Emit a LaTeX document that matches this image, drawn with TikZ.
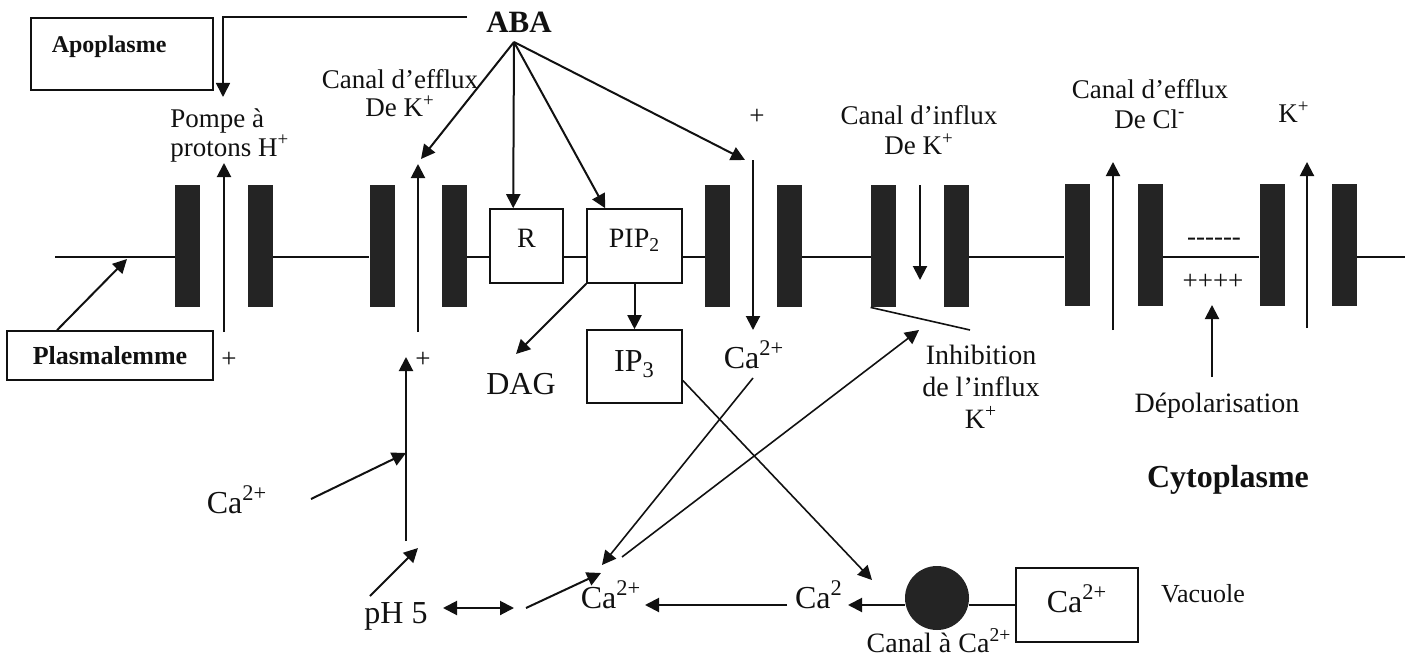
\documentclass[tikz,border=0pt]{standalone}
\usepackage{fontspec}
\setmainfont{Liberation Serif}
\usepackage{tikz}
\usetikzlibrary{arrows.meta,calc}
\definecolor{ChannelDark}{HTML}{242424}
\definecolor{TextDark}{HTML}{111111}

\begin{document}
\begin{tikzpicture}[x=0.5pt, y=-0.5pt,
    every node/.style={inner sep=0pt, text=TextDark},
    lbl/.style={font=\fontsize{13.5}{15}\selectfont, align=center, anchor=base},
    ion/.style={font=\fontsize{16}{18}\selectfont, anchor=base},
    boxed/.style={draw=TextDark, line width=0.8pt},
    chan/.style={fill=ChannelDark, minimum width=12.5pt, minimum height=61pt},
    mem/.style={draw=TextDark, line width=0.6pt},
    arr/.style={draw=TextDark, line width=1pt, -{Triangle[length=7pt,width=7pt]}},
    link/.style={draw=TextDark, line width=0.8pt}]
  \useasboundingbox (0,0) rectangle (1413,658);

  % membrane channels
  \node[chan] (b1)  at (187.5,246) {};
  \node[chan] (b2)  at (260.5,246) {};
  \node[chan] (b3)  at (382,246) {};
  \node[chan] (b4)  at (454.5,246) {};
  \node[chan] (b5)  at (717.5,246) {};
  \node[chan] (b6)  at (789.5,246) {};
  \node[chan] (b7)  at (883.5,246) {};
  \node[chan] (b8)  at (956.5,246) {};
  \node[chan] (b9)  at (1077,245) {};
  \node[chan] (b10) at (1150,245) {};
  \node[chan] (b11) at (1272,245) {};
  \node[chan] (b12) at (1344.5,245) {};

  % boxes
  \node[boxed, anchor=north west, font=\fontsize{12}{14}\selectfont\bfseries, align=left,
        text width=70pt, inner xsep=10.5pt, inner ysep=4pt, text height=13.5pt, text depth=14.5pt]
        (apo) at (30,17) {Apoplasme};
  \node[boxed, minimum width=103pt, minimum height=24.5pt, font=\fontsize{13}{15}\selectfont\bfseries]
        (plasma) at (110,355.5) {Plasmalemme};
  \node[boxed, minimum width=36.5pt, minimum height=37pt, font=\fontsize{14}{16}\selectfont, text depth=8pt]
        (R) at (526.5,246) {R};
  \node[boxed, minimum width=47.5pt, minimum height=37pt, font=\fontsize{14}{16}\selectfont, text depth=7.5pt]
        (PIP) at (634.5,246) {PIP\textsubscript{2}};
  \node[boxed, minimum width=47.5pt, minimum height=36.5pt, font=\fontsize{16}{18}\selectfont, text depth=5pt]
        (IP3) at (634.5,366.5) {IP\textsubscript{3}};
  \node[boxed, minimum width=61pt, minimum height=37pt, font=\fontsize{16}{18}\selectfont, text depth=6.5pt]
        (vac) at (1077,605) {Ca\textsuperscript{2+}};
  \node[circle, fill=ChannelDark, minimum size=32pt] (pore) at (937,598) {};

  % labels
  \node[anchor=base, font=\fontsize{15.5}{17}\selectfont\bfseries] (aba) at (519,33) {ABA};
  \node[lbl, align=left, anchor=base west, font=\fontsize{13.5}{12.5}\selectfont] (pompe) at (170,156) {Pompe à\\protons H\textsuperscript{+}};
  \node[lbl, font=\fontsize{13.5}{14}\selectfont] (effK) at (400,117) {Canal d’efflux\\De K\textsuperscript{+}};
  \node[lbl] (infK) at (919,155) {Canal d’influx\\De K\textsuperscript{+}};
  \node[lbl] (effCl) at (1150,128) {Canal d’efflux\\De Cl\textsuperscript{-}};
  \node[lbl] (kout) at (1294,123) {K\textsuperscript{+}};
  \node[lbl] (plusA) at (757,125) {+};
  \node[lbl] (plusP) at (229,367) {+};
  \node[lbl] (plusK) at (423,367) {+};
  \node[lbl, font=\fontsize{14}{16}\selectfont] (inhib) at (981,428) {Inhibition\\de l’influx\\K\textsuperscript{+}};
  \node[lbl, font=\fontsize{14}{16}\selectfont] (depol) at (1217,412) {Dépolarisation};
  \node[lbl] (neg) at (1214,245) {{-}{-}{-}{-}{-}{-}};
  \node[lbl] (pos) at (1213,289) {++++};
  \node[ion] (dag) at (521,394) {DAG};
  \node[ion] (caM) at (754,368) {Ca\textsuperscript{2+}};
  \node[ion] (caL) at (237,513) {Ca\textsuperscript{2+}};
  \node[ion] (ph) at (396,623) {pH 5};
  \node[ion] (caLow) at (611,608) {Ca\textsuperscript{2+}};
  \node[ion] (ca2) at (819,608) {Ca\textsuperscript{2}};
  \node[lbl, font=\fontsize{14}{16}\selectfont] (canalCa) at (939,652) {Canal à Ca\textsuperscript{2+}};
  \node[lbl, font=\fontsize{13}{15}\selectfont] (vacuole) at (1203,602) {Vacuole};
  \node[anchor=base, font=\fontsize{16}{18}\selectfont\bfseries] (cyto) at (1228,487) {Cytoplasme};

  % free ends
  \coordinate (memL) at (55,257);
  \coordinate (memR) at (1405,257);
  \coordinate (memPt) at (127,259);
  \coordinate (abaL) at (467,17);
  \coordinate (apoIn) at (223,97);
  \coordinate (abaS) at (514,42);
  \coordinate (effTip) at (421,159);
  \coordinate (caTip) at (745,160);
  \coordinate (pumpB) at (224,332);
  \coordinate (pumpT) at (224,163);
  \coordinate (effB) at (418,332);
  \coordinate (effT) at (418,164);
  \coordinate (caT) at (753,160);
  \coordinate (caB) at (753,330);
  \coordinate (infT) at (920,185);
  \coordinate (infB) at (920,280);
  \coordinate (clB) at (1113,330);
  \coordinate (clT) at (1113,162);
  \coordinate (kB) at (1307,328);
  \coordinate (kT) at (1307,162);
  \coordinate (depB) at (1212,377);
  \coordinate (depT) at (1212,305);
  \coordinate (inhEnd) at (970,330);
  \coordinate (dagT) at (516,354);
  \coordinate (vTop) at (406,357);
  \coordinate (vBot) at (406,541);
  \coordinate (vMid) at (406,453);
  \coordinate (caLs) at (311,499);
  \coordinate (phS) at (370,596);
  \coordinate (phT) at (418,548);
  \coordinate (dblL) at (443,608);
  \coordinate (dblR) at (514,608);
  \coordinate (bendS) at (526,608);
  \coordinate (bendT) at (601,573);
  \coordinate (caMs) at (753,378);
  \coordinate (caLowT) at (602,565);
  \coordinate (inhS) at (622,557);
  \coordinate (inhT) at (919,330);
  \coordinate (ip3T) at (872,580);
  \coordinate (c2s) at (787,605);
  \coordinate (c2t) at (645,605);
  \coordinate (poreT) at (848,605);

  % plasma membrane
  \draw[mem] (memL) -- (b1.west |- memL);
  \draw[mem] (b2.east |- memL) -- (b3.west |- memL);
  \draw[mem] (b4.east |- memL) -- (R.west |- memL);
  \draw[mem] (R.east |- memL) -- (PIP.west |- memL);
  \draw[mem] (PIP.east |- memL) -- (b5.west |- memL);
  \draw[mem] (b6.east |- memL) -- (b7.west |- memL);
  \draw[mem] (b8.east |- memL) -- (b9.west |- memL);
  \draw[mem] (b10.east |- memL) -- (b11.west |- memL);
  \draw[mem] (b12.east |- memL) -- (memR);

  % ABA signalling
  \draw[arr, line width=0.8pt] (abaL) -| (apoIn);
  \draw[arr] (abaS) -- (effTip);
  \draw[arr] (abaS) -- ([xshift=12pt]R.north west);
  \draw[arr] (abaS) -- ([xshift=9.5pt]PIP.north west);
  \draw[arr] (abaS) -- (caTip);
  \draw[arr] (plasma.north west -| 57,0) -- (memPt);

  % ion fluxes
  \draw[arr] (pumpB) -- (pumpT);
  \draw[arr] (effB) -- (effT);
  \draw[arr] (caT) -- (caB);
  \draw[arr] (infT) -- (infB);
  \draw[arr] (clB) -- (clT);
  \draw[arr] (kB) -- (kT);
  \draw[arr] (depB) -- (depT);
  \draw[link] (b7.south west) -- (inhEnd);

  % second messengers
  \draw[arr] (PIP.south west) -- (dagT);
  \draw[arr] (PIP.south) -- (IP3.north);
  \draw[arr] (vBot) -- (vTop);
  \draw[arr] (caLs) -- (vMid);
  \draw[arr] (phS) -- (phT);
  \draw[arr, {Triangle[length=7pt,width=7pt]}-{Triangle[length=7pt,width=7pt]}] (dblL) -- (dblR);
  \draw[arr] (bendS) -- (bendT);
  \draw[arr, line width=0.8pt] (caMs) -- (caLowT);
  \draw[arr, line width=0.8pt] (inhS) -- (inhT);
  \draw[arr, line width=0.8pt] ([yshift=-7pt]IP3.east) -- (ip3T);
  \draw[arr] (c2s) -- (c2t);
  \draw[arr] (pore.west |- c2s) -- (poreT);
  \draw[link] (pore.east |- c2s) -- (vac.west |- c2s);
\end{tikzpicture}
\end{document}
